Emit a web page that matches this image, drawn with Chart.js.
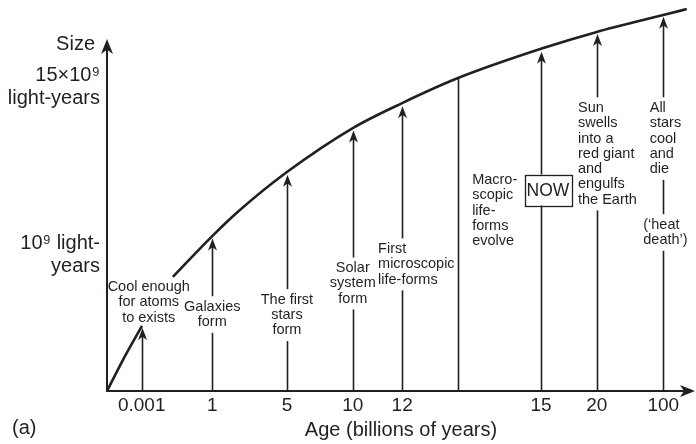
<!DOCTYPE html>
<html>
<head>
<meta charset="utf-8">
<script src="https://cdn.jsdelivr.net/npm/chart.js@4.4.1/dist/chart.umd.min.js"></script>
<style>
  html, body { margin: 0; padding: 0; background: #fff; }
  #wrap { width: 696px; height: 444px; }
</style>
</head>
<body>
<div id="wrap"><canvas id="ageChart"></canvas></div>
<script>
// schematic figure: both axes run 0..100, they have no real scale
const curveX = [0, 2.7, 5.95, 8.5, 11.2, 17.9, 22.6, 30.6, 41.8, 50.2, 59.7, 73.8, 83.3, 94.6, 98.6]
const curveY = [0, 8.8, 18.5, null, 32.4, 44.0, 51.4, 62.2, 74.7, 81.8, 88.9, 97.2, 102.0, 106.8, 108.5]

// vertical event lines (x position, top of the line, arrow head or not)
const eventX = [5.9, 17.9, 30.6, 41.8, 50.2, 59.7, 73.8, 83.3, 94.6]
const eventTop = [17.9, 43.3, 61.4, 74.0, 80.9, 88.9, 96.4, 101.4, 106.3]
const eventHead = [true, true, true, true, true, false, true, true, true]

const xTickPos = [5.9, 17.9, 30.6, 41.8, 50.2, 73.8, 83.3, 94.6]
const xTickLabels = ["0.001", "1", "5", "10", "12", "15", "20", "100"]
const yTickPos = [38.6, 86.4]
const yTickLabels = [["10\u2079 light-", "years"], ["15\u00d710\u2079", "light-years"]]

const noteTexts = [
  ["Cool enough", "for atoms", "to exists"],
  ["Galaxies", "form"],
  ["The first", "stars", "form"],
  ["Solar", "system", "form"],
  ["First", "microscopic", "life-forms"],
  ["Macro-", "scopic", "life-", "forms", "evolve"],
  ["Sun", "swells", "into a", "red giant", "and", "engulfs", "the Earth"],
  ["All", "stars", "cool", "and", "die"],
  ["(\u2018heat", "death\u2019)"]
]
// where each note sits (axis units, first line) and how it is aligned
const noteLayout = [
  {x: 7.1, y: 29.5, align: "center"},
  {x: 17.9, y: 23.9, align: "center"},
  {x: 30.6, y: 25.9, align: "center"},
  {x: 41.8, y: 34.9, align: "center"},
  {x: 46.1, y: 40.3, align: "left"},
  {x: 62.1, y: 59.9, align: "left"},
  {x: 80.1, y: 80.4, align: "left"},
  {x: 92.3, y: 80.4, align: "left"},
  {x: 91.2, y: 47.2, align: "left"}
]
const nowLabel = "NOW"
const nowPos = {x: 75.0, y: 57.1}

const INK = "#231f20"
const FONT = "'Liberation Sans', Arial, sans-serif"

function arrowHead(ctx, x, y, w, h) {
  ctx.beginPath()
  ctx.moveTo(x, y)
  ctx.lineTo(x - w / 2, y + h)
  ctx.lineTo(x, y + h * 0.72)
  ctx.lineTo(x + w / 2, y + h)
  ctx.closePath()
  ctx.fill()
}

const schemePlugin = {
  id: "scheme",
  beforeDatasetsDraw(chart) {
    const ctx = chart.ctx
    const xs = chart.scales.x, ys = chart.scales.y
    const y0 = ys.getPixelForValue(0)
    ctx.save()
    ctx.strokeStyle = INK
    ctx.fillStyle = INK
    ctx.lineWidth = 1.6
    // event lines
    eventX.forEach((v, i) => {
      const px = Math.round(xs.getPixelForValue(v)) + 0.5
      ctx.beginPath()
      ctx.moveTo(px, y0)
      ctx.lineTo(px, ys.getPixelForValue(eventTop[i]) + (eventHead[i] ? 6 : 0))
      ctx.stroke()
    })
    // notes with white backing so they cut the lines
    ctx.font = "14.5px " + FONT
    ctx.textBaseline = "middle"
    const lh = 15.3
    noteTexts.forEach((lines, i) => {
      const lay = noteLayout[i]
      const px = xs.getPixelForValue(lay.x)
      const py = ys.getPixelForValue(lay.y)
      const w = Math.max(...lines.map(t => ctx.measureText(t).width))
      const left = lay.align === "center" ? px - w / 2 : px
      ctx.fillStyle = "#fff"
      ctx.fillRect(left - 2, py - lh / 2 - 3, w + 4, lh * lines.length + 6)
      ctx.fillStyle = INK
      ctx.textAlign = lay.align
      lines.forEach((t, k) => ctx.fillText(t, px, py + k * lh))
    })
    // NOW box
    ctx.font = "17.5px " + FONT
    ctx.textAlign = "center"
    const nx = xs.getPixelForValue(nowPos.x), ny = ys.getPixelForValue(nowPos.y)
    const nw = ctx.measureText(nowLabel).width + 4
    ctx.fillStyle = "#fff"
    ctx.fillRect(nx - nw / 2, ny - 15.5, nw, 31)
    ctx.lineWidth = 1.3
    ctx.strokeRect(Math.round(nx - nw / 2) + 0.5, Math.round(ny - 15.5) + 0.5, Math.round(nw), 31)
    ctx.fillStyle = INK
    ctx.fillText(nowLabel, nx, ny + 1)
    // arrow heads
    eventX.forEach((v, i) => {
      if (!eventHead[i]) return
      arrowHead(ctx, Math.round(xs.getPixelForValue(v)) + 0.5, ys.getPixelForValue(eventTop[i]), 9, 12)
    })
    ctx.restore()
  },
  afterDraw(chart) {
    const ctx = chart.ctx
    const a = chart.chartArea
    ctx.save()
    ctx.strokeStyle = INK
    ctx.fillStyle = INK
    ctx.lineWidth = 2
    ctx.beginPath()
    ctx.moveTo(a.left, a.bottom)
    ctx.lineTo(a.left, a.top + 10)
    ctx.moveTo(a.left - 1, a.bottom)
    ctx.lineTo(a.right - 10, a.bottom)
    ctx.stroke()
    arrowHead(ctx, a.left, a.top, 12, 15)
    // x arrow head pointing right
    ctx.beginPath()
    ctx.moveTo(a.right, a.bottom)
    ctx.lineTo(a.right - 15, a.bottom - 6)
    ctx.lineTo(a.right - 11, a.bottom)
    ctx.lineTo(a.right - 15, a.bottom + 6)
    ctx.closePath()
    ctx.fill()
    // y title and panel letter
    ctx.font = "20px " + FONT
    ctx.textBaseline = "middle"
    ctx.textAlign = "right"
    ctx.fillText("Size", a.left - 12, a.top + 5)
    ctx.textAlign = "left"
    ctx.fillText("(a)", 12, 428)
    ctx.restore()
  }
}

const ctx = document.getElementById("ageChart").getContext("2d")
let ageChart = new Chart(ctx, {
  type: "line",
  data: {
    datasets: [{
      data: curveX.map((x, i) => ({x: x, y: curveY[i]})),
      borderColor: INK,
      borderWidth: 2.6,
      pointRadius: 0,
      cubicInterpolationMode: "monotone",
      spanGaps: false,
      clip: false,
      fill: false
    }]
  },
  options: {
    responsive: true,
    maintainAspectRatio: false,
    animation: false,
    layout: { padding: { top: 39, right: 1, left: 0, bottom: 0 } },
    plugins: { legend: { display: false }, tooltip: { enabled: false } },
    scales: {
      x: {
        type: "linear",
        min: 0,
        max: 100,
        grid: { display: false, drawTicks: false },
        border: { display: false },
        afterBuildTicks: (scale) => { scale.ticks = xTickPos.map(v => ({value: v})) },
        afterFit: (scale) => { scale.height = 53 },
        ticks: {
          color: INK,
          padding: 3,
          autoSkip: false,
          maxRotation: 0,
          font: { family: FONT, size: 19 },
          callback: (v, i) => xTickLabels[i]
        },
        title: {
          display: true,
          text: "Age (billions of years)",
          color: INK,
          font: { family: FONT, size: 20 },
          padding: { top: 0, bottom: 2 }
        }
      },
      y: {
        type: "linear",
        min: 0,
        max: 100,
        grid: { display: false, drawTicks: false },
        border: { display: false },
        afterBuildTicks: (scale) => { scale.ticks = yTickPos.map(v => ({value: v})) },
        afterFit: (scale) => { scale.width = 107 },
        ticks: {
          color: INK,
          padding: 7,
          autoSkip: false,
          font: { family: FONT, size: 20, lineHeight: 1.15 },
          callback: (v, i) => yTickLabels[i]
        }
      }
    }
  },
  plugins: [schemePlugin]
})
</script>
</body>
</html>
